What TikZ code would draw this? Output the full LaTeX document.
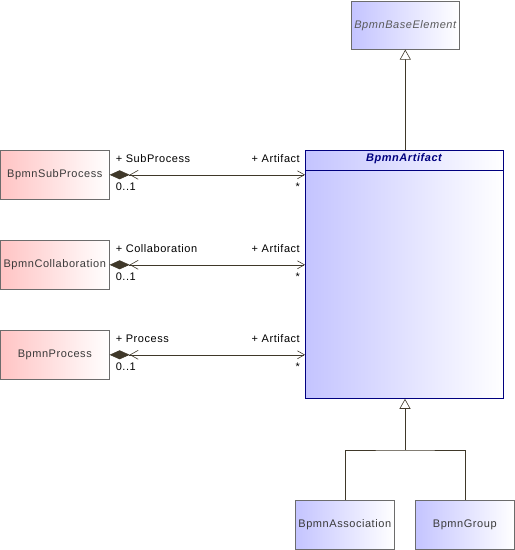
\documentclass[tikz,border=0pt]{standalone}
\usepackage{fontspec}
\setmainfont[LetterSpace=5]{Liberation Sans}
\usetikzlibrary{arrows.meta,calc}
\definecolor{lnc}{HTML}{3F3829}
\definecolor{pinkc}{HTML}{FFC4C4}
\definecolor{bluec}{HTML}{C4C4FF}
\definecolor{navy}{HTML}{00007F}
\definecolor{txt}{HTML}{3A3A3A}
\begin{document}
\begin{tikzpicture}[x=1pt,y=-1pt,
  font=\fontsize{11}{13}\selectfont,
  box/.style={draw=gray!85!black, line width=0.6pt, anchor=north west, minimum width=109pt, minimum height=49pt, inner sep=0pt, text=txt},
  pinkbox/.style={box, left color=pinkc, right color=white},
  bluebox/.style={box, left color=bluec, right color=white, minimum width=99pt},
  assoc/.style={draw=lnc, line width=0.6pt, {Diamond[length=20pt,width=9pt,fill=lnc,color=lnc]Straight Barb[length=8pt,width=9pt,line width=0.6pt]}-{Straight Barb[length=7pt,width=8pt,line width=0.6pt]}},
  gen/.style={draw=lnc, line width=0.6pt},
  gtip/.style={-{Triangle[open,length=10pt,width=11pt,line width=0.6pt,fill=white]}},
  lbl/.style={inner sep=0pt, text=black}
]
\useasboundingbox (0,0) rectangle (515,550);
% base element
\node[box, left color=bluec, right color=white, minimum width=108pt, minimum height=48pt, font=\fontsize{11}{13}\selectfont\itshape, text=gray!70!black] (base) at (351,1) {BpmnBaseElement};
% artifact
\node[draw=navy, line width=0.8pt, anchor=north west, minimum width=198pt, minimum height=248pt, inner sep=0pt, left color=bluec, right color=white] (art) at (305,150) {};
\draw[navy, line width=0.8pt] (305,170) coordinate (hl) -- (503,170) coordinate (hr);
\node[font=\fontsize{11}{13}\selectfont\bfseries\itshape, text=navy] (arttitle) at (404,159) {BpmnArtifact};
% left boxes
\node[pinkbox] (sub) at (0,150) {BpmnSubProcess};
\node[pinkbox] (col) at (0,240) {BpmnCollaboration};
\node[pinkbox] (proc) at (0,330) {BpmnProcess};
% bottom boxes
\node[bluebox] (asc) at (295,500) {BpmnAssociation};
\node[bluebox] (grp) at (415,500) {BpmnGroup};
% generalization to base
\draw[gen, gtip] (art.north -| base.south) -- (base.south);
% generalization from children
\coordinate (jn) at (405,450);
\draw[gen, gtip] (jn) -- (art.south -| jn);
\draw[gen] (asc.north) |- (jn) -| (grp.north);
% associations
\foreach \n/\role in {sub/SubProcess, col/Collaboration, proc/Process}{
  \draw[assoc] (\n.east) -- (\n.east -| art.west);
  \node[lbl, anchor=base west] at ($(\n.east)+(6,-12)$) {+ \role};
  \node[lbl, anchor=base west] at ($(\n.east)+(6,16)$) {0..1};
  \node[lbl, anchor=base east] at ($(\n.east -| art.west)+(-5,-12)$) {+ Artifact};
  \node[lbl, anchor=base east] at ($(\n.east -| art.west)+(-5,16)$) {*};
}
\end{tikzpicture}
\end{document}
